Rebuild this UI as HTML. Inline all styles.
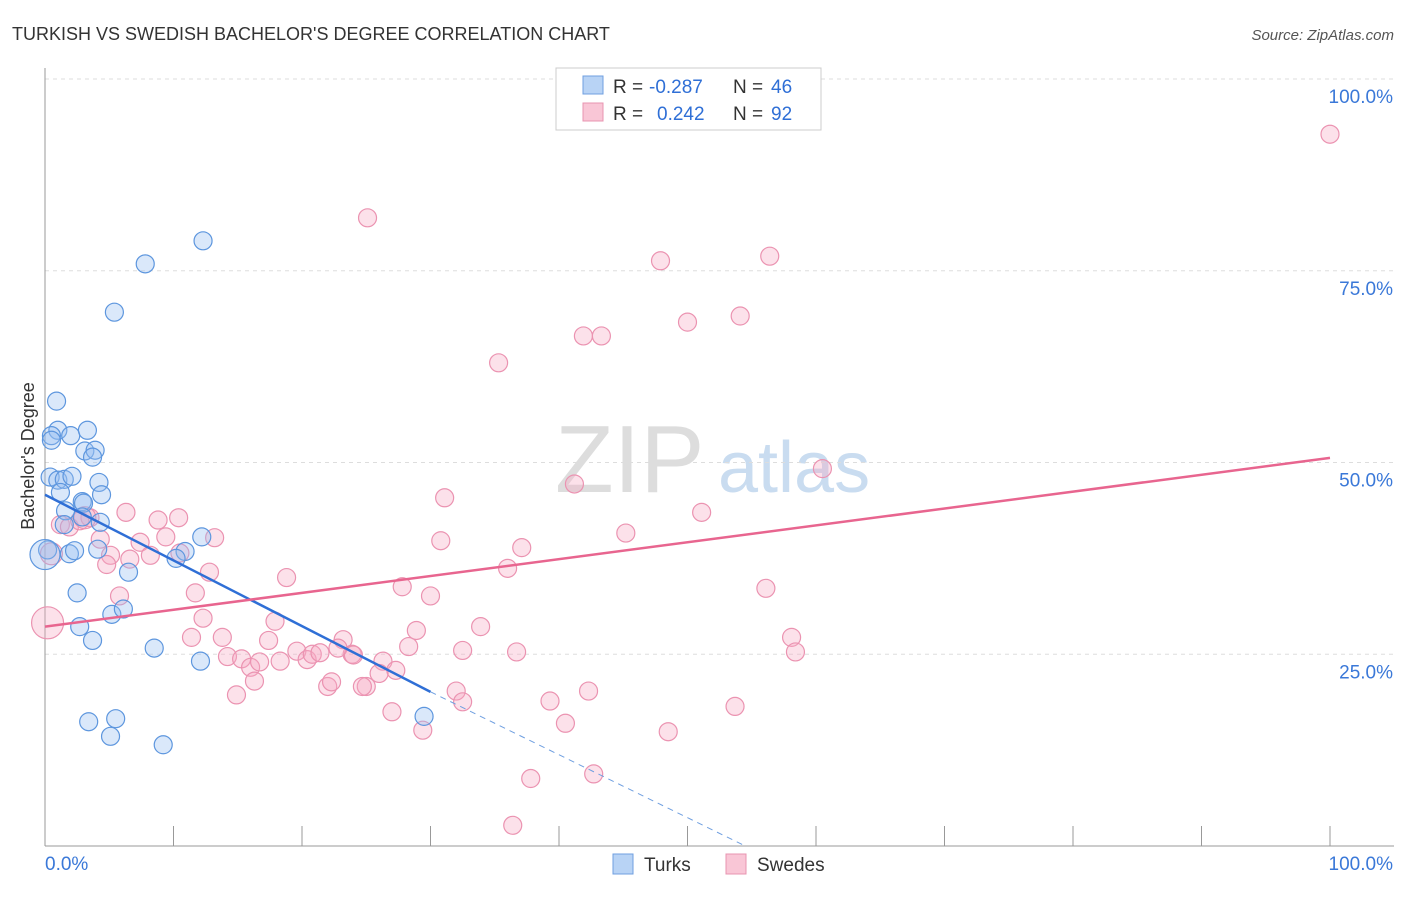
<!DOCTYPE html>
<html><head><meta charset="utf-8"><style>
body{margin:0;background:#fff;font-family:"Liberation Sans",sans-serif}
svg text{font-family:"Liberation Sans",sans-serif}
</style></head><body>
<svg id="c" width="1406" height="892">
<text x="12" y="40" font-size="18" fill="#333">TURKISH VS SWEDISH BACHELOR'S DEGREE CORRELATION CHART</text>
<text x="1394" y="40" font-size="15" fill="#555" font-style="italic" text-anchor="end">Source: ZipAtlas.com</text>
<text x="34" y="456" font-size="18" fill="#333" transform="rotate(-90 34 456)" text-anchor="middle">Bachelor's Degree</text>
<text x="555" y="492" font-size="96" fill="#ddd" font-family="Liberation Serif">ZIP</text>
<text x="718" y="492" font-size="72" fill="#c9dcf0">atlas</text>
<g id="grid"></g><g id="pts"></g><g id="trend"></g>
<g>
<rect x="556" y="68" width="265" height="62" fill="#fff" stroke="#ccc"/>
<rect x="583" y="76" width="20" height="18" fill="#b8d3f5" stroke="#6f9fe0"/>
<rect x="583" y="103" width="20" height="18" fill="#f9c6d6" stroke="#e894b0"/>
<text y="93" font-size="19" fill="#333"><tspan x="613">R =</tspan><tspan x="649" fill="#2f6fd6">-0.287</tspan><tspan x="733">N =</tspan><tspan x="771" fill="#2f6fd6">46</tspan></text>
<text y="120" font-size="19" fill="#333"><tspan x="613">R =</tspan><tspan x="657" fill="#2f6fd6">0.242</tspan><tspan x="733">N =</tspan><tspan x="771" fill="#2f6fd6">92</tspan></text>
</g>
<g>
<rect x="613" y="854" width="20" height="20" fill="#b8d3f5" stroke="#6f9fe0"/>
<text x="644" y="871" font-size="19" fill="#333">Turks</text>
<rect x="726" y="854" width="20" height="20" fill="#f9c6d6" stroke="#e894b0"/>
<text x="757" y="871" font-size="19" fill="#333">Swedes</text>
</g>
</svg>
<script>
const yTicks=[25,50,75,100];
const turksX=[0.9,1.0,0.5,0.5,2.0,3.3,3.1,3.9,3.7,0.4,1.0,1.5,2.1,1.2,4.2,4.4,2.9,3.0,1.6,2.9,4.3,1.5,0.2,1.9,2.3,4.1,6.5,2.5,5.2,6.1,2.7,3.7,8.5,12.1,10.9,10.2,12.2,7.8,12.3,5.4,3.4,5.5,5.1,9.2,29.5,0];
const turksY=[58.0,54.2,53.5,52.9,53.5,54.2,51.5,51.6,50.7,48.1,47.7,47.8,48.2,46.1,47.4,45.8,44.9,44.7,43.7,42.9,42.2,41.9,38.6,38.1,38.5,38.7,35.7,33.0,30.2,30.9,28.6,26.8,25.8,24.1,38.4,37.5,40.3,75.9,78.9,69.6,16.2,16.6,14.3,13.2,16.9,38.0];
const turksR=[9,9,9,9,9,9,9,9,9,9,9,9,9,9,9,9,9,9,9,9,9,9,9,9,9,9,9,9,9,9,9,9,9,9,9,9,9,9,9,9,9,9,9,9,9,15];
const swedesX=[100,25.1,47.9,56.4,41.9,43.3,50.0,54.1,35.3,60.5,41.2,31.1,51.1,45.2,30.8,37.1,36.0,56.1,30.0,27.8,18.8,12.8,6.3,8.8,10.4,1.2,1.9,2.7,3.5,4.3,5.1,6.6,7.4,8.2,9.4,10.5,13.2,4.8,5.8,11.7,12.3,17.9,13.8,11.4,17.4,14.2,15.3,16.0,16.7,18.3,19.6,20.4,20.8,21.4,23.2,23.9,22.8,24.0,26.3,27.3,26.0,25.0,22.0,22.3,24.7,28.9,28.3,32.5,33.9,36.7,16.3,14.9,32.0,32.5,27.0,39.3,42.3,40.5,29.4,48.5,53.7,58.1,58.4,37.8,42.7,36.4,0.2,0.5,3.1];
const swedesY=[92.8,81.9,76.3,76.9,66.5,66.5,68.3,69.1,63.0,49.2,47.2,45.4,43.5,40.8,39.8,38.9,36.2,33.6,32.6,33.8,35.0,35.7,43.5,42.5,42.8,41.9,41.6,42.4,42.8,40.0,37.9,37.4,39.6,37.9,40.3,38.2,40.2,36.7,32.6,33.0,29.7,29.3,27.2,27.2,26.8,24.7,24.4,23.3,24.0,24.1,25.4,24.3,25.0,25.2,26.9,25.0,25.8,24.9,24.1,22.9,22.5,20.8,20.8,21.4,20.8,28.1,26.0,25.5,28.6,25.3,21.5,19.7,20.2,18.8,17.5,18.9,20.2,16.0,15.1,14.9,18.2,27.2,25.3,8.8,9.4,2.7,29.1,38.1,42.8];
const swedesR=[9,9,9,9,9,9,9,9,9,9,9,9,9,9,9,9,9,9,9,9,9,9,9,9,9,9,9,9,9,9,9,9,9,9,9,9,9,9,9,9,9,9,9,9,9,9,9,9,9,9,9,9,9,9,9,9,9,9,9,9,9,9,9,9,9,9,9,9,9,9,9,9,9,9,9,9,9,9,9,9,9,9,9,9,9,9,16,11,11];
const turkLine=[[0,45.8],[30,20.1]], turkDash=[[30,20.1],[54.5,0]];
const swedeLine=[[0,28.6],[100,50.6]];
const X=v=>45+v*12.85, Y=v=>846-v*7.67;
const NS='http://www.w3.org/2000/svg';
function mk(t,a,p){const e=document.createElementNS(NS,t);for(const k in a)e.setAttribute(k,a[k]);p.appendChild(e);return e;}
const g=document.getElementById('grid');
yTicks.forEach(t=>{
 const l=mk('line',{x1:45,x2:1394,y1:Y(t),y2:Y(t),stroke:'#ddd','stroke-dasharray':'4,4'},g);
 
 
 const tx=mk('text',{x:1393,y:Y(t)+24,'font-size':19,fill:'#3a78d8','text-anchor':'end'},g);
 tx.textContent=t.toFixed(1)+'%';
 
 
});
const ax=mk('line',{x1:45,x2:45,y1:68,y2:846,stroke:'#999'},g);


const bx=mk('line',{x1:45,x2:1394,y1:846,y2:846,stroke:'#999'},g);


for(let i=0;i<=10;i++){const tk=mk('line',{x1:X(i*10),x2:X(i*10),y1:826,y2:846,stroke:'#999'},g);
 
 }
[[0,'0.0%','start',45],[100,'100.0%','end',1393]].forEach(d=>{const t=mk('text',{x:d[3],y:870,'font-size':19,fill:'#3a78d8','text-anchor':d[2]},g);t.textContent=d[1];
 
 });
const p=document.getElementById('pts');
swedesX.forEach((v,i)=>{const c=mk('circle',{cx:X(v),cy:Y(swedesY[i]),r:swedesR[i],fill:'rgba(246,170,195,0.35)',stroke:'#eb93b1','stroke-width':1.2},p);
 
 });
turksX.forEach((v,i)=>{const c=mk('circle',{cx:X(v),cy:Y(turksY[i]),r:turksR[i],fill:'rgba(150,190,240,0.35)',stroke:'#5d96de','stroke-width':1.2},p);
 
 });
const tr=document.getElementById('trend');
const l1=mk('line',{x1:X(turkLine[0][0]),y1:Y(turkLine[0][1]),x2:X(turkLine[1][0]),y2:Y(turkLine[1][1]),stroke:'#2f6fd6','stroke-width':2.5},tr);


const l2=mk('line',{x1:X(turkDash[0][0]),y1:Y(turkDash[0][1]),x2:X(turkDash[1][0]),y2:Y(turkDash[1][1]),stroke:'#6f9fe0','stroke-width':1,'stroke-dasharray':'6,5'},tr);


const l3=mk('line',{x1:X(swedeLine[0][0]),y1:Y(swedeLine[0][1]),x2:X(swedeLine[1][0]),y2:Y(swedeLine[1][1]),stroke:'#e8658f','stroke-width':2.5},tr);


</script>
</body></html>
